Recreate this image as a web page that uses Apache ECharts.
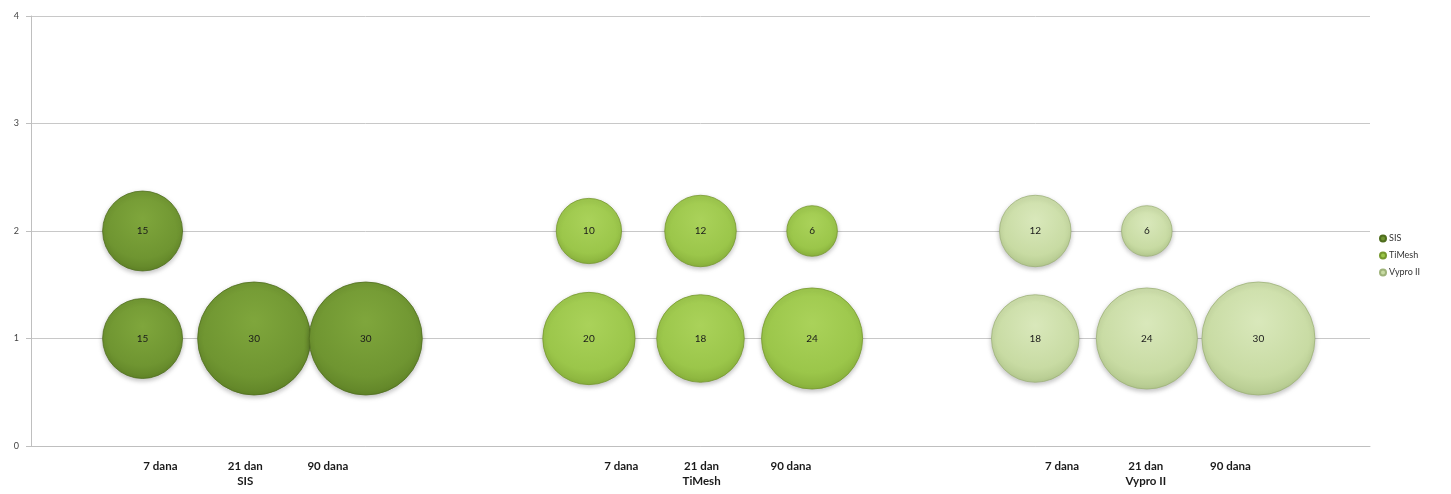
<!DOCTYPE html>
<html>
<head>
<meta charset="utf-8">
<script src="https://cdn.jsdelivr.net/npm/echarts@6/dist/echarts.min.js"></script>
<style>html,body{margin:0;padding:0;background:#fff}#c{width:1451px;height:494px}</style>
</head>
<body>
<div id="c"></div>
<script>
// Data
const seriesNames = ['SIS', 'TiMesh', 'Vypro II'];
const sisData = [[1, 2, 15], [1, 1, 15], [2, 1, 30], [3, 1, 30]];
const timeshData = [[5, 2, 10], [6, 2, 12], [7, 2, 6], [5, 1, 20], [6, 1, 18], [7, 1, 24]];
const vyproData = [[9, 2, 12], [10, 2, 6], [9, 1, 18], [10, 1, 24], [11, 1, 30]];
const xTickLabels = ['7 dana', '21 dan\nSIS', '90 dana', '7 dana', '21 dan\nTiMesh', '90 dana', '7 dana', '21 dan\nVypro II', '90 dana'];
const xTickPositions = [1.16, 1.92, 2.66, 5.29, 6.01, 6.81, 9.24, 9.99, 10.75];
const yTicks = [0, 1, 2, 3, 4];

const chart = echarts.init(document.getElementById('c'));
const FONT = 'Lato, "Open Sans", sans-serif';

function grad(light, mid, dark) {
  return {
    type: 'radial', x: 0.5, y: 0.35, r: 0.75,
    colorStops: [
      { offset: 0, color: light },
      { offset: 0.65, color: mid },
      { offset: 1, color: dark }
    ]
  };
}
const styles = [
  { fill: grad('#7fa63c', '#6f9531', '#587a22'), border: '#4f6d1e', legend: '#6e9430' },
  { fill: grad('#aad25a', '#9bc64a', '#7fa534'), border: '#76982e', legend: '#9bc64a' },
  { fill: grad('#d9e8bb', '#c8dba3', '#a9bf83'), border: '#9eb37a', legend: '#c8dba3' }
];
const datasets = [sisData, timeshData, vyproData];

const series = datasets.map((d, i) => ({
  name: seriesNames[i],
  type: 'scatter',
  data: d,
  symbolSize: v => 113 * Math.sqrt(v[2] / 30),
  itemStyle: {
    color: styles[i].fill,
    borderColor: styles[i].border,
    borderWidth: 0.8,
    shadowBlur: 5,
    shadowColor: 'rgba(0,0,0,0.25)',
    shadowOffsetY: 2,
    opacity: 1
  },
  label: {
    show: true,
    position: 'inside',
    formatter: p => p.value[2],
    color: '#1a1a1a',
    fontSize: 10,
    fontFamily: FONT
  },
  emphasis: { disabled: true }
}));

chart.setOption({
  animation: false,
  textStyle: { fontFamily: FONT },
  legend: {
    orient: 'vertical',
    left: 1374,
    top: 229,
    itemWidth: 6,
    itemHeight: 6,
    itemGap: 8,
    icon: 'circle',
    data: seriesNames.map((n, i) => ({ name: n, itemStyle: { color: styles[i].legend } })),
    textStyle: { fontSize: 9, color: '#333', fontFamily: FONT, padding: [0, 0, 0, -2] }
  },
  grid: { left: 31, right: 81, top: 16, bottom: 48, containLabel: false },
  xAxis: {
    type: 'value',
    min: 0,
    max: 12,
    axisLine: { show: true, lineStyle: { color: '#bfbfbf', width: 1 } },
    axisTick: { show: false },
    splitLine: { show: false },
    axisLabel: {
      customValues: xTickPositions,
      formatter: v => {
        let best = 0;
        xTickPositions.forEach((p, i) => { if (Math.abs(p - v) < Math.abs(xTickPositions[best] - v)) best = i; });
        return xTickLabels[best];
      },
      margin: 13,
      fontSize: 11.5,
      fontWeight: 'bold',
      color: '#1a1a1a',
      lineHeight: 15,
      fontFamily: FONT
    }
  },
  yAxis: {
    type: 'value',
    min: yTicks[0],
    max: yTicks[yTicks.length - 1],
    interval: 1,
    axisLine: { show: true, lineStyle: { color: '#bfbfbf', width: 1 } },
    axisTick: { show: true, length: 5, lineStyle: { color: '#bfbfbf' } },
    splitLine: { show: true, lineStyle: { color: '#c8c8c8', width: 1 } },
    axisLabel: { fontSize: 9, color: '#444', margin: 12, fontFamily: FONT }
  },
  series: series
});
</script>
</body>
</html>
